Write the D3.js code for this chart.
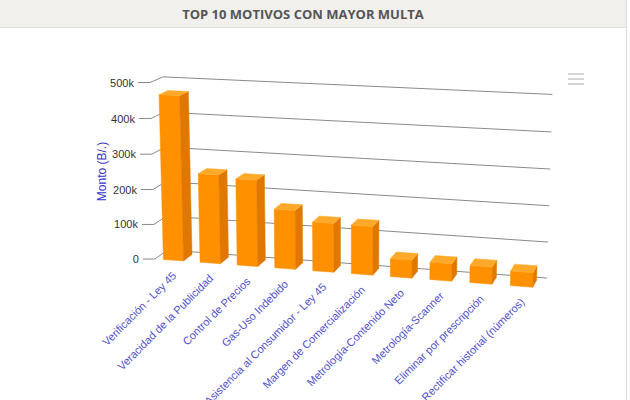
<!DOCTYPE html>
<html><head><meta charset="utf-8">
<script src="https://cdnjs.cloudflare.com/ajax/libs/d3/7.8.5/d3.min.js"></script>
<style>
body{margin:0;background:#fff;}
svg{display:block;font-family:"Liberation Sans",Arial,sans-serif;}
</style>
</head><body>
<svg id="c" width="630" height="400"></svg>
<script>
// ---- data ----
const categories = [
  "Verificación - Ley 45",
  "Veracidad de la Publicidad",
  "Control de Precios",
  "Gas-Uso Indebido",
  "Asistencia al Consumidor - Ley 45",
  "Margen de Comercialización",
  "Metrología-Contenido Neto",
  "Metrología-Scanner",
  "Eliminar por prescripción",
  "Rectificar historial (números)"
];
const values = [467000, 252000, 244000, 166000, 137000, 136000, 50000, 48000, 47000, 40000];
const tickValues = [0, 100000, 200000, 300000, 400000, 500000];
const tickLabels = ["0", "100k", "200k", "300k", "400k", "500k"];
const chartTitle = "TOP 10 MOTIVOS CON MAYOR MULTA";
const yAxisTitle = "Monto (B/.)";

// ---- 3D layout ----
const W = 400, H = 184, D = 36, barDepth = 25;
const alpha = 13 * Math.PI / 180, beta = 15 * Math.PI / 180, vd = 1600;
const S = 1.015, CX = 347, CY = 179.5;
const cA = Math.cos(alpha), sA = Math.sin(alpha), cB = Math.cos(beta), sB = Math.sin(beta);
function proj(px, py, pz) {
  const xr = cB * px + sB * pz;
  const yr = sA * sB * px + cA * py - cB * sA * pz;
  const zr = -cA * sB * px + sA * py + cA * cB * pz;
  const p = vd / (zr + D / 2 + vd);
  return [CX + xr * p * S, CY + yr * p * S, zr];
}
const x = d3.scaleBand().domain(categories).range([-W / 2, W / 2]).paddingInner(0.45).paddingOuter(0.225);
const y = d3.scaleLinear().domain([0, 500000]).range([H / 2, -H / 2]);

const svg = d3.select("#c");

// header
svg.append("rect").attr("x", 0).attr("y", 0).attr("width", 626).attr("height", 27).attr("fill", "#f1f0ec");
svg.append("line").attr("x1", 0).attr("x2", 626).attr("y1", 27.5).attr("y2", 27.5).attr("stroke", "#e2e1dc");
svg.append("line").attr("x1", 626.5).attr("x2", 626.5).attr("y1", 0).attr("y2", 400).attr("stroke", "#dcdcdc");
svg.append("text").attr("x", 303).attr("y", 19).attr("text-anchor", "middle")
  .style("font-family", "'Open Sans', sans-serif").style("font-weight", 700).style("font-size", "13px")
  .attr("fill", "#555").text(chartTitle);

// menu icon
[74, 79, 84].forEach(yy => {
  svg.append("line").attr("x1", 568).attr("x2", 584).attr("y1", yy).attr("y2", yy)
    .attr("stroke", "#d4d4d4").attr("stroke-width", 2);
});

// gridlines + ticks
const gGrid = svg.append("g");
tickValues.forEach((t, i) => {
  const yy = y(t);
  const fl = proj(-W / 2, yy, -D / 2), bl = proj(-W / 2, yy, D / 2), br = proj(W / 2, yy, D / 2);
  gGrid.append("path")
    .attr("d", `M${fl[0] - 12},${fl[1]}L${fl[0]},${fl[1]}L${bl[0]},${bl[1]}L${br[0]},${br[1]}`)
    .attr("fill", "none").attr("stroke", "#8a8a8a").attr("stroke-width", 1);
  gGrid.append("text").attr("x", fl[0] - 16).attr("y", fl[1] + 4).attr("text-anchor", "end")
    .style("font-size", "11px").attr("fill", "#333").text(tickLabels[i]);
});

// y axis title
svg.append("text").attr("transform", "translate(105.5,171.5) rotate(-90)").attr("text-anchor", "middle")
  .style("font-size", "12px").attr("fill", "#3333cc").text(yAxisTitle);

// bars
const gBars = svg.append("g");
const colFront = "#ff9000", colTop = "#ffa92a", colSide = "#e07800";
const bars = categories.map((c, i) => {
  const x0 = x(c), x1 = x0 + x.bandwidth();
  const y0 = y(0), y1 = y(values[i]);
  const z0 = -D / 2 + 1, z1 = z0 + barDepth;
  return {x0, x1, y0, y1, z0, z1, depth: proj((x0 + x1) / 2, (y0 + y1) / 2, z0)[2]};
}).sort((a, b) => b.depth - a.depth);
const poly = pts => "M" + pts.map(p => { const q = proj(p[0], p[1], p[2]); return q[0] + "," + q[1]; }).join("L") + "Z";
bars.forEach(b => {
  const g = gBars.append("g");
  g.append("path").attr("d", poly([[b.x0, b.y1, b.z0], [b.x1, b.y1, b.z0], [b.x1, b.y0, b.z0], [b.x0, b.y0, b.z0]]))
    .attr("fill", colFront).attr("stroke", colFront).attr("stroke-width", 0.5);
  g.append("path").attr("d", poly([[b.x1, b.y1, b.z0], [b.x1, b.y1, b.z1], [b.x1, b.y0, b.z1], [b.x1, b.y0, b.z0]]))
    .attr("fill", colSide).attr("stroke", colSide).attr("stroke-width", 0.5);
  g.append("path").attr("d", poly([[b.x0, b.y1, b.z0], [b.x0, b.y1, b.z1], [b.x1, b.y1, b.z1], [b.x1, b.y1, b.z0]]))
    .attr("fill", colTop).attr("stroke", colTop).attr("stroke-width", 0.5);
});

// x labels
const gX = svg.append("g");
categories.forEach(c => {
  const p = proj(x(c) + x.bandwidth() / 2, H / 2, -D / 2);
  gX.append("text").attr("transform", `translate(${p[0] + 4},${p[1] + 16}) rotate(-45)`)
    .attr("text-anchor", "end").style("font-size", "11px").attr("fill", "#4f4fcc").text(c);
});
</script>
</body></html>
